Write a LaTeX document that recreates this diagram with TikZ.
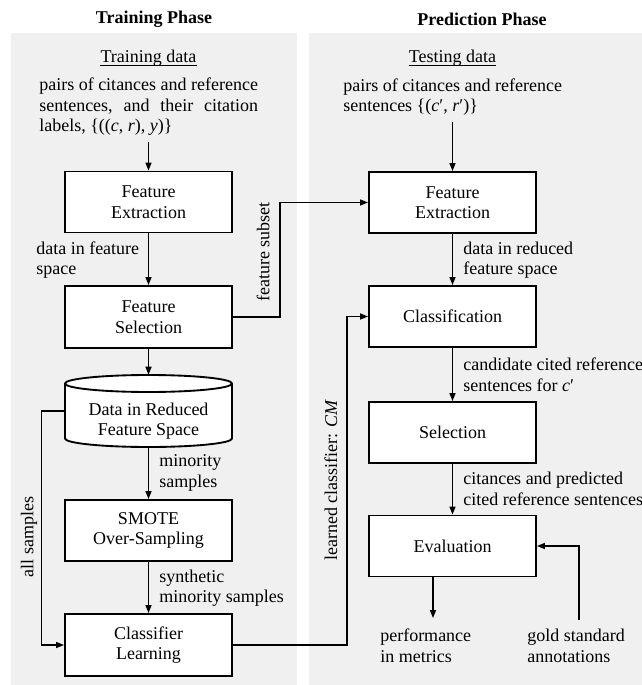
\documentclass[tikz,border=0pt]{standalone}
\usepackage{fontspec}
\setmainfont{Liberation Serif}
\usetikzlibrary{arrows.meta,calc}
\definecolor{panelgray}{RGB}{240,240,240}
\newlength\firstlinewd
\begin{document}
\begin{tikzpicture}[x=0.75pt,y=-0.75pt,
  every node/.style={font=\fontsize{13.5}{15.4}\selectfont, inner sep=0pt},
  box/.style={draw, line width=1.4pt, fill=white, minimum width=125.25pt, minimum height=45.75pt, align=center, inner sep=2pt},
  conn/.style={line width=1.1pt, -{Triangle[length=6pt,width=4.5pt]}},
  uline/.style={line width=0.6pt},
  lbl/.style={align=left, anchor=west},
  title/.style={font=\fontsize{13.5}{15.4}\selectfont\bfseries}]
\useasboundingbox (0,0) rectangle (642,685);
\fill[white] (0,0) rectangle (642,685);
% panels
\fill[panelgray] (11,33) rectangle (296.5,685);
\fill[panelgray] (309,33) rectangle (642,685);
% titles
\node[title] (t1) at (154,19) {Training Phase};
\node[title] (t2) at (482,19) {Prediction Phase};
\node (h1) at (148.5,58) {Training data};
\node (h2) at (452.5,58) {Testing data};
\draw[uline] ($(h1.base west)+(0,3)$) -- ($(h1.base east)+(0,3)$);
\draw[uline] ($(h2.base west)+(0,3)$) -- ($(h2.base east)+(0,3)$);
\node[lbl] (tdtext) at (39,107) {\settowidth{\firstlinewd}{pairs of citances and reference}\global\firstlinewd=\firstlinewd pairs of citances and reference\\\hbox to \firstlinewd{sentences,\hfill and\hfill their\hfill citation}\\labels, \{((\textit{c}, \textit{r}), \textit{y})\}};
\node[lbl] (tstext) at (343,97) {pairs of citances and reference\\sentences \{(\textit{c}′, \textit{r}′)\}};
\coordinate (tdend) at (148.5,142);
\coordinate (tsend) at (452.5,122);
% left boxes
\node[box] (fe1) at (148.5,202) {Feature\\Extraction};
\node[box, minimum height=46.5pt] (fs) at (148.5,317) {Feature\\Selection};
\node[minimum width=125.25pt, minimum height=54pt] (db) at (148.5,411) {};
\draw[line width=1.4pt, fill=white] (65,383.5) -- (65,438.5)
   arc[start angle=180, end angle=360, x radius=62.625pt, y radius=6.375pt]
   -- (232,383.5)
   arc[start angle=0, end angle=180, x radius=62.625pt, y radius=6.375pt] -- cycle;
\draw[line width=1.4pt] (65,383.5) arc[start angle=180, end angle=360, x radius=62.625pt, y radius=6.375pt];
\node[align=center] (dbtext) at (148.5,421) {Data in Reduced\\Feature Space};
\node[box] (smote) at (148.5,530.5) {SMOTE\\Over-Sampling};
\node[box, minimum height=46.5pt] (cl) at (148.5,645) {Classifier\\Learning};
% right boxes
\node[box] (fe2) at (452.5,202.5) {Feature\\Extraction};
\node[box] (cls) at (452.5,316.5) {Classification};
\node[box] (sel) at (452.5,432.5) {Selection};
\node[box] (ev) at (452.5,546) {Evaluation};
\coordinate (perf) at (433,618);
\coordinate (gold) at (579,620);
% connectors left
\draw[conn] (tdend) -- (fe1.north);
\draw[conn] (fe1) -- (fs);
\draw[conn] (fs.south) -- (db.north);
\draw[conn] (db.south) -- (smote.north);
\draw[conn] (smote) -- (cl);
\draw[conn] (db.west) -- ++(-23,0) |- (cl.west);
\draw[conn] (fs.east) -- ++(47,0) |- (fe2.west);
\draw[conn] (cl.east) -- ++(114,0) |- (cls.west);
% connectors right
\draw[conn] (tsend) -- (fe2.north);
\draw[conn] (fe2) -- (cls);
\draw[conn] (cls) -- (sel);
\draw[conn] (sel) -- (ev);
\draw[conn] (ev.south -| perf) -- (perf);
\draw[conn] (gold) |- (ev.east);
% labels
\node[lbl] (l1) at (36,260) {data in feature\\space};
\node[lbl] (l2) at (463,260) {data in reduced\\feature space};
\node[lbl] (l3) at (463,375) {candidate cited reference\\sentences for \textit{c}′};
\node[lbl] (l4) at (159,473) {minority\\samples};
\node[lbl] (l5) at (159,588) {synthetic\\minority samples};
\node[lbl] (l6) at (463,489) {citances and predicted\\cited reference sentences};
\node[lbl] (l7) at (380,646) {performance\\in metrics};
\node[lbl] (l8) at (527,646) {gold standard\\annotations};
\node[rotate=90] (r1) at (263,252) {feature subset};
\node[rotate=90] (r2) at (29,537) {all samples};
\node[rotate=90] (r3) at (331,480) {learned classifier: \textit{CM}};
\end{tikzpicture}
\end{document}
